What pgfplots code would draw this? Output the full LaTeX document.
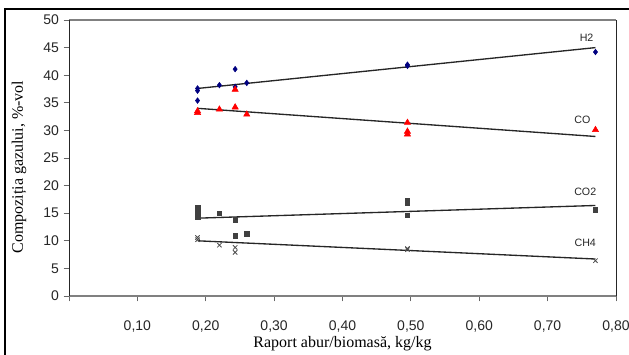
\documentclass[border=0pt]{standalone}
\usepackage{fontspec}
\setmainfont{Liberation Serif}
\setsansfont{Liberation Sans}
\usepackage{pgfplots}
\pgfplotsset{compat=1.18}
\definecolor{hblue}{RGB}{0,0,128}
\definecolor{cored}{RGB}{255,0,0}
\begin{document}
\begin{tikzpicture}
\begin{axis}[
  at={(51.75pt,43.5pt)}, anchor=south west,
  width=410.25pt, height=207pt, scale only axis,
  xmin=0, xmax=0.8, ymin=0, ymax=50,
  separate axis lines,
  x axis line style={draw=black!50, line width=1pt},
  y axis line style={draw=black!85, line width=0.6pt},
  xtick={0,0.1,0.2,0.3,0.4,0.5,0.6,0.7,0.8},
  xticklabels={,{0,10},{0,20},{0,30},{0,40},{0,50},{0,60},{0,70},{0,80}},
  ytick={0,5,10,15,20,25,30,35,40,45,50},
  yticklabels={0,5,10,15,20,25,30,35,40,45,50},
  tick align=outside, major tick length=4pt,
  xtick pos=bottom, ytick pos=left,
  tick style={black!60, line width=0.6pt},
  ticklabel style={font=\sffamily\fontsize{10.5}{12}\selectfont, text=black!85},
  xticklabel style={anchor=base, yshift=-21.75pt},
  yticklabel style={anchor=east},
  xlabel={Raport abur/biomasă, kg/kg},
  ylabel={Compoziția gazului, \%-vol},
  label style={font=\rmfamily\fontsize{12}{14}\selectfont},
  xlabel style={at={(axis description cs:0.5,-0.174)}, anchor=center},
  ylabel style={at={(axis description cs:-0.0914,0.467)}, anchor=center, rotate=0},
  clip=false,
]
% trend lines
\addplot[black!85, line width=1pt] coordinates {(0.188,37.6) (0.77,45.0)};
\addplot[black!85, line width=1pt] coordinates {(0.188,34.0) (0.77,28.9)};
\addplot[black!85, line width=1pt] coordinates {(0.188,14.1) (0.77,16.4)};
\addplot[black!85, line width=1pt] coordinates {(0.188,10.0) (0.77,6.7)};
% H2
\addplot[only marks, mark=diamond*, mark size=2.1pt, color=hblue] coordinates {
 (0.188,37.6) (0.188,37.2) (0.188,35.4) (0.22,38.2) (0.243,41.1) (0.243,37.9)
 (0.26,38.6) (0.495,41.9) (0.495,41.7) (0.77,44.2)};
% CO
\addplot[only marks, mark=triangle*, mark size=2.7pt, color=cored] coordinates {
 (0.188,33.5) (0.188,33.2) (0.22,33.8) (0.243,34.2) (0.243,37.4) (0.26,32.9)
 (0.495,31.4) (0.495,29.8) (0.495,29.3) (0.77,30.1)};
% CO2
\addplot[only marks, mark=square*, mark size=1.7pt, color=black!75] coordinates {
 (0.188,16.1) (0.188,15.2) (0.188,14.4) (0.22,15.0) (0.243,13.8) (0.243,10.9)
 (0.26,11.3) (0.495,17.3) (0.495,16.8) (0.495,14.6) (0.77,15.6)};
% CH4
\addplot[only marks, mark=x, mark size=2.3pt, color=black!70, line width=0.6pt] coordinates {
 (0.188,10.6) (0.188,10.2) (0.22,9.2) (0.243,8.8) (0.243,7.9)
 (0.495,8.6) (0.495,8.4) (0.77,6.4)};
\node[font=\sffamily\fontsize{8}{9.6}\selectfont, text=black!85] at (axis cs:0.757,46.8) {H2};
\node[font=\sffamily\fontsize{8}{9.6}\selectfont, text=black!85] at (axis cs:0.751,31.9) {CO};
\node[font=\sffamily\fontsize{8}{9.6}\selectfont, text=black!85] at (axis cs:0.755,18.8) {CO2};
\node[font=\sffamily\fontsize{8}{9.6}\selectfont, text=black!85] at (axis cs:0.755,9.7) {CH4};
\end{axis}
\draw[black, line width=1.6pt] (3.75pt,-5pt) -- (3.75pt,258.9pt) -- (490pt,258.9pt);
\pgfresetboundingbox
\path[use as bounding box] (0,0) rectangle (471.75pt,265.5pt);
\end{tikzpicture}
\end{document}
